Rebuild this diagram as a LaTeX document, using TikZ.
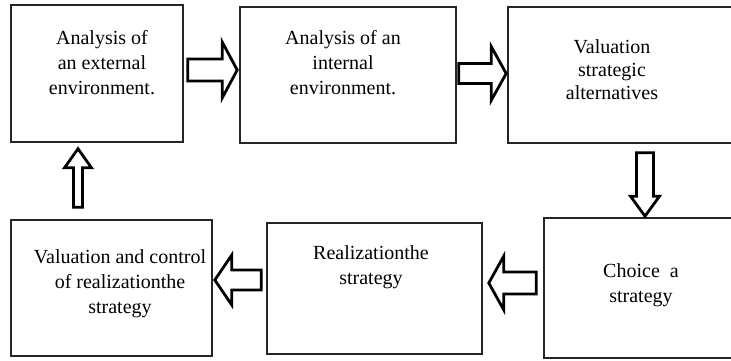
\documentclass[tikz,border=0pt]{standalone}
\usepackage{fontspec}
\setmainfont{Liberation Serif}
\usetikzlibrary{calc}
\tikzset{
  box/.style={draw=black!85, line width=1.6pt, rectangle, inner sep=0pt},
  txt/.style={align=center, font=\fontsize{20}{25}\selectfont, inner sep=0pt},
  blockarrow/.style args={#1/#2/#3}{draw=black, line width=2.8pt, fill=white, line join=miter,
    to path={
      let \p1=(\tikztostart), \p2=(\tikztotarget),
          \n1={veclen(\x2-\x1,\y2-\y1)},
          \n2={(\x2-\x1)/\n1}, \n3={(\y2-\y1)/\n1}
      in
      ({\x1-#1*\n3},{\y1+#1*\n2})
      -- ({\x2-#3*\n2-#1*\n3},{\y2-#3*\n3+#1*\n2})
      -- ({\x2-#3*\n2-#2*\n3},{\y2-#3*\n3+#2*\n2})
      -- (\x2,\y2)
      -- ({\x2-#3*\n2+#2*\n3},{\y2-#3*\n3-#2*\n2})
      -- ({\x2-#3*\n2+#1*\n3},{\y2-#3*\n3-#1*\n2})
      -- ({\x1+#1*\n3},{\y1-#1*\n2})
      -- cycle
    }}
}
\begin{document}
\begin{tikzpicture}[x=1pt,y=1pt]
\useasboundingbox (0,0) rectangle (731,361);
\fill[white] (0,0) rectangle (731,361);
\begin{scope}
\clip (0,0) rectangle (731,361);
% boxes
\node[box, minimum width=172pt, minimum height=137pt] (b1) at (97,287.5) {};
\node[box, minimum width=216pt, minimum height=136pt] (b2) at (348,286) {};
\node[box, minimum width=237pt, minimum height=136pt] (b3) at (626.5,286) {};
\node[box, minimum width=201pt, minimum height=140pt] (b6) at (644.5,73) {};
\node[box, minimum width=215pt, minimum height=131pt] (b5) at (374.5,72.5) {};
\node[box, minimum width=201pt, minimum height=136pt] (b4) at (111.5,73) {};
% texts
\node[txt] (t1) at (102,298) {Analysis of\\an external\\environment.};
\node[txt] (t2) at (343,298) {Analysis of an\\internal\\environment.};
\node[txt, font=\fontsize{20}{23}\selectfont] (t3) at (612,291) {Valuation\\strategic\\alternatives};
\node[txt] (t4) at (120,77) {Valuation and control\\of realizationthe\\strategy};
\node[txt] (t5) at (371,93.5) {Realizationthe\\strategy};
\node[txt] (t6) at (641,76) {Choice \ a\\strategy};
% block arrows
\draw[blockarrow=11/28/15] ([xshift=4pt,yshift=3.5pt]b1.east) to ([xshift=-2pt,yshift=5pt]b2.west);
\draw[blockarrow=10/27/15] ([xshift=2pt,yshift=1.5pt]b2.east) to ([xshift=-1pt,yshift=1.5pt]b3.west);
\draw[blockarrow=8.5/14.5/20] ([xshift=18.5pt,yshift=-9pt]b3.south) to ([xshift=0.5pt,yshift=1pt]b6.north);
\draw[blockarrow=11/27/15] ([xshift=-7pt,yshift=5pt]b6.west) to ([xshift=6pt,yshift=5.5pt]b5.east);
\draw[blockarrow=10/25/17] ([xshift=-5pt,yshift=8.5pt]b5.west) to ([xshift=2pt,yshift=8pt]b4.east);
\draw[blockarrow=4.5/13.5/19] ([xshift=-33.5pt,yshift=12pt]b4.north) to ([xshift=-19pt,yshift=-6pt]b1.south);
\end{scope}
\end{tikzpicture}
\end{document}
